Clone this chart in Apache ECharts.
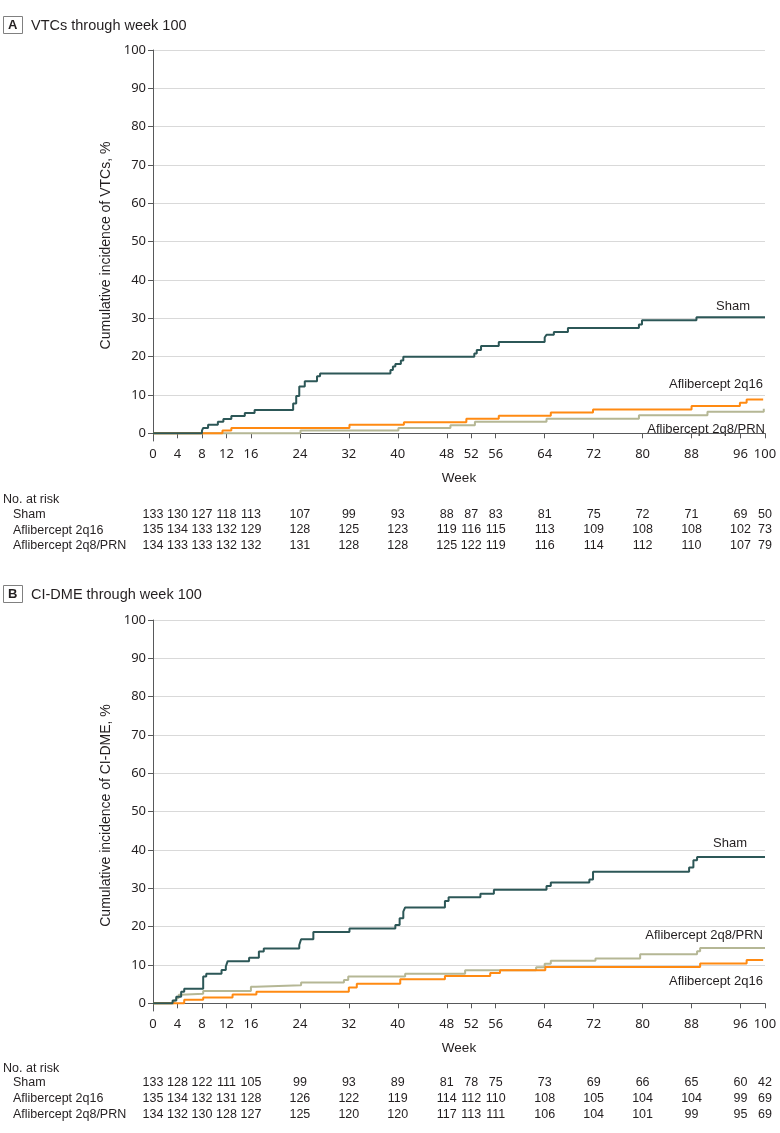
<!DOCTYPE html>
<html>
<head>
<meta charset="utf-8">
<script src="https://cdn.jsdelivr.net/npm/echarts@6/dist/echarts.min.js"></script>
<style>
html,body{margin:0;padding:0;background:#fff;}
#c{width:780px;height:1133px;}
</style>
</head>
<body>
<div id="c"></div>
<script>
// ---------- data ----------
const weekTicks = [0,4,8,12,16,24,32,40,48,52,56,64,72,80,88,96,100];
const yTicks = [0,10,20,30,40,50,60,70,80,90,100];
const groups = ['Sham','Aflibercept 2q16','Aflibercept 2q8/PRN'];

// Panel A: VTCs (week, cumulative %)
const shamA = [[0,0],[8,0.7],[8.2,1.4],[9,2.2],[10.6,3.0],[11.5,3.7],[12.8,4.5],[15,5.3],[16.6,6.1],[22.9,7.8],[23.4,9.7],[23.9,12.2],[24.8,13.6],[26.8,14.9],[27.3,15.6],[38.8,16.5],[39.2,17.4],[39.6,18.1],[40.5,19.0],[40.9,20.0],[52.5,20.8],[52.9,21.7],[53.6,22.8],[56.5,23.8],[64.0,25.0],[64.3,25.7],[65.5,26.4],[67.8,27.5],[79.4,28.4],[79.9,29.5],[88.8,30.3],[100,30.3]];
const q16A = [[0,0],[11.35,0.7],[12.8,1.4],[32.1,2.2],[41.0,2.9],[51.2,3.8],[56.5,4.6],[65.0,5.4],[71.9,6.2],[88.0,7.1],[95.9,8.0],[97.0,8.8],[99.7,8.8]];
const prnA = [[0,0],[24.1,0.7],[40.1,1.4],[48.6,2.1],[52.6,3.0],[64.3,3.8],[79.4,4.7],[90.6,5.6],[99.8,6.4]];

// Panel B: CI-DME
const shamB = [[0,0],[3.2,0.7],[3.8,1.7],[4.6,3.0],[5.1,3.8],[8.2,7.0],[8.7,7.7],[11.2,8.7],[11.9,9.6],[12.2,11.0],[15.7,11.9],[17.3,13.5],[18.1,14.3],[23.9,15.2],[24.2,16.7],[26.2,18.6],[32.1,19.5],[39.6,20.4],[40.3,22.2],[40.9,23.9],[41.2,25.0],[47.7,26.7],[48.3,27.7],[53.5,28.6],[55.7,29.6],[64.3,30.6],[65.0,31.5],[71.3,32.3],[71.9,34.3],[87.6,35.4],[88.3,37.3],[88.9,38.2],[100,38.2]];
const q16B = [[0,0],[5.1,0.9],[8.2,1.5],[13.0,2.3],[16.9,3.0],[32.0,4.1],[33.3,5.1],[40.4,6.3],[47.7,7.1],[55.1,7.9],[56.7,8.6],[64.1,9.5],[89.4,10.4],[97.0,11.3],[99.7,11.3]];
const prnB = [[0,0],[3.4,0.7],[3.8,1.4],[4.2,2.2],[4.6,2.5],[8.2,3.2],[16.0,4.3],[16.8,4.7],[24.2,5.4],[31.2,6.1],[31.9,7.0],[41.2,7.7],[51.0,8.6],[62.6,9.4],[64.0,10.3],[65.0,11.1],[72.3,11.7],[79.6,12.8],[88.9,13.6],[89.4,14.4],[100,14.4]];

// Numbers at risk
const riskShamA = [133,130,127,118,113,107,99,93,88,87,83,81,75,72,71,69,50];
const riskQ16A  = [135,134,133,132,129,128,125,123,119,116,115,113,109,108,108,102,73];
const riskPrnA  = [134,133,133,132,132,131,128,128,125,122,119,116,114,112,110,107,79];
const riskShamB = [133,128,122,111,105,99,93,89,81,78,75,73,69,66,65,60,42];
const riskQ16B  = [135,134,132,131,128,126,122,119,114,112,110,108,105,104,104,99,69];
const riskPrnB  = [134,132,130,128,127,125,120,120,117,113,111,106,104,101,99,95,69];

// ---------- style ----------
const SANS = '"Liberation Sans",Arial,sans-serif';
const TICKF = '"Noto Sans",sans-serif';
const TXT = '#231f20';
const AX = '#58595b';
const C_SHAM = '#2c5757';
const C_Q16 = '#ff8a12';
const C_PRN = '#b5b795';

const panels = [
  {top:50, title:'A', sub:'VTCs through week 100', yname:'Cumulative incidence of VTCs, %',
   series:[prnA,q16A,shamA], risk:[riskShamA,riskQ16A,riskPrnA],
   rowY:[515,530.5,546], noRiskY:499.3, weekGap:30, titleTop:16,
   labels:[{t:'Sham',r:30,y:306},{t:'Aflibercept 2q16',r:17,y:384},{t:'Aflibercept 2q8/PRN',r:15,y:429}]},
  {top:620, title:'B', sub:'CI-DME through week 100', yname:'Cumulative incidence of CI-DME, %',
   series:[prnB,q16B,shamB], risk:[riskShamB,riskQ16B,riskPrnB],
   rowY:[1082.7,1099,1115], noRiskY:1068.3, weekGap:30, titleTop:585,
   labels:[{t:'Sham',r:33,y:843},{t:'Aflibercept 2q8/PRN',r:17,y:935},{t:'Aflibercept 2q16',r:17,y:981}]}
];
const PLOT_H = 383.3;   // 0..100 span
const AX_GAP = 7.7;     // x axis sits below the 0 line
const YMIN = -AX_GAP / (PLOT_H / 100);

const grid=[], xAxis=[], yAxis=[], series=[], title=[], graphic=[];
panels.forEach((p,pi)=>{
  grid.push({left:153, right:15, top:p.top, height:PLOT_H + AX_GAP});
  const bottom = p.top + PLOT_H + AX_GAP;
  xAxis.push({gridIndex:pi, type:'value', min:0, max:100,
    axisLine:{lineStyle:{color:AX,width:1}},
    axisTick:{customValues:weekTicks, length:5, lineStyle:{color:AX}},
    axisLabel:{customValues:weekTicks, margin:7, color:TXT, fontFamily:TICKF, fontSize:13,
      showMinLabel:true, showMaxLabel:true, hideOverlap:false},
    splitLine:{show:false},
    name:'Week', nameLocation:'middle', nameGap:p.weekGap,
    nameTextStyle:{fontFamily:SANS, fontSize:13.5, color:TXT}});
  p.risk.forEach((arr,ri)=>{
    xAxis.push({gridIndex:pi, type:'value', min:0, max:100, position:'bottom',
      offset: p.rowY[ri] - bottom - 7,
      axisLine:{show:false}, axisTick:{show:false}, splitLine:{show:false},
      axisLabel:{customValues:weekTicks, margin:0, color:TXT, fontFamily:SANS, fontSize:12.5,
        showMinLabel:true, showMaxLabel:true, hideOverlap:false,
        formatter:(v)=>String(arr[weekTicks.indexOf(v)])}});
  });
  yAxis.push({gridIndex:pi, type:'value', min:YMIN, max:100, splitNumber:10,
    axisLine:{show:true, lineStyle:{color:AX,width:1}},
    axisTick:{show:true, customValues:yTicks, length:5, lineStyle:{color:AX}},
    axisLabel:{customValues:yTicks, margin:7, color:TXT, fontFamily:TICKF, fontSize:13,
      showMinLabel:true, showMaxLabel:true},
    splitLine:{show:true, lineStyle:{color:'#d9d9d9', width:1}},
    name:p.yname, nameLocation:'middle', nameGap:35, nameRotate:90,
    nameTextStyle:{fontFamily:SANS, fontSize:14, color:TXT}});
  const xBase = pi*4;
  const cols = [C_PRN, C_Q16, C_SHAM];
  p.series.forEach((d,si)=>{
    series.push({type:'line', xAxisIndex:xBase, yAxisIndex:pi, data:d, step:'end',
      symbol:'none', clip:false, lineStyle:{color:cols[si], width:2}, z:2+si, silent:true});
  });
  title.push({text:p.title, left:3, top:p.titleTop, padding:[2,5,1,5], borderColor:'#808080', borderWidth:1,
    textStyle:{fontSize:13, fontWeight:'bold', color:TXT, fontFamily:SANS, lineHeight:15}});
  title.push({text:p.sub, left:31, top:p.titleTop, padding:[1,0,0,0],
    textStyle:{fontSize:14.5, fontWeight:'normal', color:TXT, fontFamily:SANS, lineHeight:17}});
  graphic.push({type:'text', left:3, top:p.noRiskY-6.5, style:{text:'No. at risk', font:'12.5px '+SANS, fill:TXT}});
  groups.forEach((g,gi)=>{
    graphic.push({type:'text', left:13, top:p.rowY[gi]-6.5, style:{text:g, font:'12.5px '+SANS, fill:TXT}});
  });
  p.labels.forEach(l=>{
    graphic.push({type:'text', right:l.r, top:l.y-6.5, style:{text:l.t, font:'13px '+SANS, fill:TXT}});
  });
});

const chart = echarts.init(document.getElementById('c'), null, {renderer:'canvas'});
chart.setOption({animation:false, backgroundColor:'#fff', grid, xAxis, yAxis, series, title, graphic});
</script>
</body>
</html>
